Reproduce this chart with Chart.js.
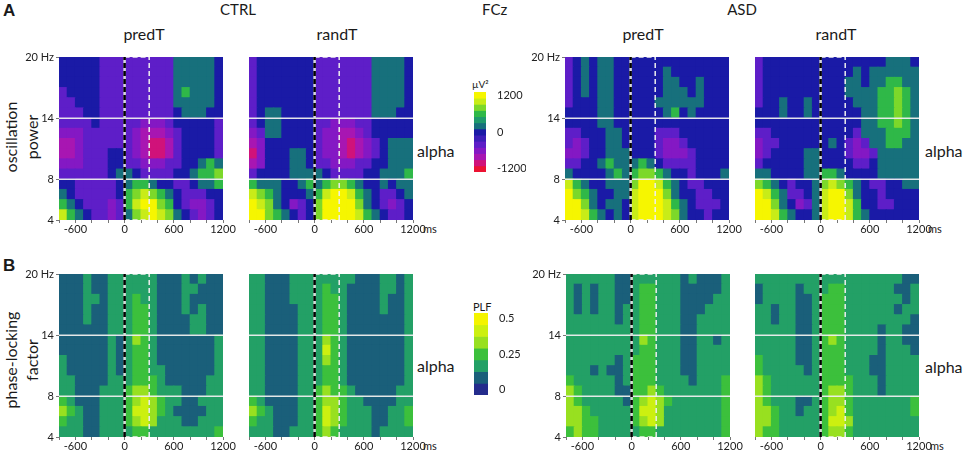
<!DOCTYPE html>
<html>
<head>
<meta charset="utf-8">
<script src="https://cdn.jsdelivr.net/npm/chart.js@4.4.1/dist/chart.umd.min.js"></script>
<style>
  html, body { margin: 0; padding: 0; background: #fff; }
  #stage { position: relative; width: 964px; height: 452px; overflow: hidden;
           font-family: Lato, "Open Sans", sans-serif; color: #1a1a1a; }
  canvas { position: absolute; }
  .t { position: absolute; white-space: nowrap; line-height: 1; }
  .c { transform: translateX(-50%); }
  .rot { transform: translate(-50%, -50%) rotate(-90deg); text-align: center; }
</style>
</head>
<body>
<div id="stage">
  <div class="t" style="left:3px;top:1px;font:bold 17px 'Liberation Sans',sans-serif">A</div>
  <div class="t" style="left:3px;top:256px;font:bold 17px 'Liberation Sans',sans-serif">B</div>
  <div class="t c" style="left:238px;top:2px;font-size:15px">CTRL</div>
  <div class="t" style="left:482px;top:2px;font-size:15px">FCz</div>
  <div class="t c" style="left:742px;top:2px;font-size:15px">ASD</div>
  <div class="t c" style="left:144px;top:26px;font-size:16px">predT</div>
  <div class="t c" style="left:337px;top:26px;font-size:16px">randT</div>
  <div class="t c" style="left:643px;top:26px;font-size:16px">predT</div>
  <div class="t c" style="left:836px;top:26px;font-size:16px">randT</div>
  <div class="t rot" style="left:21px;top:137px;font-size:16px;line-height:21px">oscillation<br>power</div>
  <div class="t rot" style="left:21px;top:360px;font-size:16px;line-height:21px">phase-locking<br>factor</div>
  <div class="t" style="left:417px;top:143px;font-size:16px">alpha</div>
  <div class="t" style="left:925px;top:143px;font-size:16px">alpha</div>
  <div class="t" style="left:417px;top:358px;font-size:16px">alpha</div>
  <div class="t" style="left:925px;top:359px;font-size:16px">alpha</div>
  <div class="t" style="left:423px;top:223px;font-size:11px">ms</div>
  <div class="t" style="left:928px;top:223px;font-size:11px">ms</div>
  <div class="t" style="left:423px;top:440px;font-size:11px">ms</div>
  <div class="t" style="left:930px;top:440px;font-size:11px">ms</div>
  <div class="t" style="left:472px;top:79px;font-size:10px">µV²</div>
  <div class="t" style="left:473px;top:301px;font-size:11px">PLF</div>
</div>
<script>
// time bins (ms, bin centres) and frequency bins (Hz, bin centres, top row first)
const timeCenters = [-750, -650, -550, -450, -350, -250, -150, -50, 50, 150,
                     250, 350, 450, 550, 650, 750, 850, 950, 1050, 1150];
const freqCenters = [19.5, 18.5, 17.5, 16.5, 15.5, 14.5, 13.5, 12.5,
                     11.5, 10.5, 9.5, 8.5, 7.5, 6.5, 5.5, 4.5];
const xTickLabels = [-600, 0, 600, 1200];
const yTickValues = [4, 8, 14, 20];
const yTickText = ['4', '8', '14', '20 Hz'];
const alphaBandHz = [8, 14];
const cueWindowMs = [0, 300];

// contour levels: one letter per level, lowest first
const powerLevels = [-1200, -1000, -800, -600, -400, -200, 0, 200, 400, 600, 800, 1000, 1200];
const powerCodes = 'rcmvpibtsglyY';
const powerTicks = [-1200, 0, 1200];
const plfLevels = [0, 0.083, 0.167, 0.25, 0.333, 0.417, 0.5];
const plfCodes = 'ntsglyY';
const plfTicks = [0, 0.25, 0.5];

// oscillation power, level letter per 100 ms x 1 Hz cell
const ctrlPredPower = [
  'bbbbbppppppppptttttb',
  'bbbbbppppppppptttttb',
  'bbbbbppppppppptttttb',
  'pbbbbppppppppptgtttb',
  'ppbbbppppppppptttttb',
  'pppbbpppppppppbtttbb',
  'ppppbpppppvvvpbbbbbp',
  'vvvppppppvmmmvpbbbbp',
  'mmvppppppvmccmpbbbbp',
  'mmvpppbbpvmccmpbbbbp',
  'vvvpppbbppvvvppbbtgt',
  'ppppppbttbppppbbtggl',
  'bbpppppbtggtbbppbttg',
  'tbpppppbglylgtbpppbb',
  'gtbpppvpgyYYlgbpvvpb',
  'ygtbppvptlyYyltbpvpb'
];
const ctrlRandPower = [
  'pbbbbbbbpppppppttttb',
  'pbbbbbbbpppppppttttb',
  'pbbbbbbbpppppppttttb',
  'pbbbbbbbpppppppttttb',
  'pbbbbbbbpppppppttttb',
  'pbttbbbbppppppptttbb',
  'pbttbbbbppvvvppbbbbb',
  'vpttbbbbpvvmmvpbbbbb',
  'mvbbbbbbpvvmcmvpbttt',
  'cvbbbttbpvvmcmvpbttt',
  'mvbbbttbppvvvppbbttt',
  'pbbbbttttbppppbbtttg',
  'gtttbbtgtgllgtbbtbtt',
  'ylgtbbbtgyYYygtbppbt',
  'YyltbvpblYYYYltbpvpb',
  'YYlgtbpblYYYYygtbppb'
];
const asdPredPower = [
  'pbtbttbbbbbbbbbbbbbb',
  'pbtbttbbbbbbtbbbbbbb',
  'pbtbttbbbbbbttbbtbbb',
  'pbtbttbbbbbbtttbtbbb',
  'pbbbttbbbbbttttttbbb',
  'bbbbttbbbbbbtgbtbbbb',
  'bbbbttbbbbbbbbbbbbbb',
  'ppbbbttbbbbpppbbbbbb',
  'pvpbbttbbbbpvvpbbbbb',
  'vvpbbtttbbbpvvvpbbbb',
  'ppbbtgtttgtbppppbbbb',
  'tbbbbtgtgllgtbbpbbbt',
  'ygtbbtttlYYygtbppbbb',
  'YlgtbbttyYYYltbbppbb',
  'YYltbttbyYYYygtbpppb',
  'YYygtbtbyYYYyltbbpbb'
];
const asdRandPower = [
  'pbbbbbbbbbbbbbbbtttb',
  'pbbbbbbbbbbbtbtttttt',
  'pbbbbbbbbbbttbttggtt',
  'pbbbbbbbbbbttttgglgt',
  'pbbtbbtbbbbbtttgglgt',
  'bbbtbbtbbbbbbttgglgt',
  'bbbbbbbbbbbbbttgglgt',
  'ppbbbbbbbbbbptttgggt',
  'vppbbbbbbtbpvpttggtt',
  'vpbbbbttbbbpvvpttttt',
  'pbbbbbttbbbbppbttttt',
  'ttbbbbttggtbbbbttttt',
  'lgtbpbbtlylgtbppbbtt',
  'YygtppbtyYYltbbpbbbb',
  'YYltbvptyYYygbbppbbb',
  'YYygtbbtyYYygtbbbbbb'
];

// phase-locking factor, same cells
const ctrlPredPlf = [
  'tttsttsssssstttststt',
  'tttsttsssssstttssttt',
  'tttsstsssgsstttstttt',
  'tttsttsssggstttststt',
  'tttsttsssggsttttsstt',
  'ttttttsssggsttttsstt',
  'ttttttstslgsttttttts',
  'ttttttstsggsttttttts',
  'stttttstsggsttttttts',
  'stttttstsggsstttttts',
  'ssttttsssgggstttttss',
  'sstttsssgllgssstttss',
  'gstttsssglylgssttsss',
  'lgsttsssgyylgsttttss',
  'gssttsssglylsssttsss',
  'sssttssssggssssssssg'
];
const ctrlRandPlf = [
  'sstttsssssssstttssts',
  'sstttssssgssttttssts',
  'sstttssssggsttttstts',
  'ssttttsssggsttttstts',
  'ssttttsssggsttttttts',
  'ssttttsssggsttttttts',
  'ssttttssslgsttttttts',
  'ssttttsssygsttttttts',
  'ssttttssslgsttttttts',
  'ssttttsssggsttttttts',
  'ssttttsssggsttttttts',
  'ssttttssglggstttttss',
  'gsttttssgllgssttttss',
  'lgstttssgylgsssttssg',
  'gsstttssgylgsssttssg',
  'sssttsssglgsssstssss'
];
const asdPredPlf = [
  'ssssssttsssssststtts',
  'ststssttsggsssttttts',
  'ststssttsggsssttttss',
  'ststsstssggssstttsss',
  'sssssstssggsssttssss',
  'sssssssssggsssttssss',
  'ssssssssslgsssttssts',
  'sssssssssggsssttssss',
  'sssssstsgggsssttssss',
  'ssststtsgggsssttssss',
  'gssssstsgggsssstsssg',
  'lgssssttgglgsssssssg',
  'lgssssstglylgssssssg',
  'llgsssssgyylsssssssg',
  'llggssssglylsssssssg',
  'glggsssssggssssssssg'
];
const asdRandPlf = [
  'sssssssssssssssssstt',
  'tsssstsssggsssssstts',
  'tssssttsgggsssssssts',
  'sstssttsgggsssssstss',
  'sstssttsgggsssssssst',
  'sssssttsgggsssstsstt',
  'sssssttsglgsssstsstt',
  'sssssttsgggsssstssst',
  'gssssttsgggsssttssss',
  'gssssstsgggsssttssss',
  'lgssssssggggssstssss',
  'lgssssssgllgssstssss',
  'lgsssttsgllgsssssssg',
  'llgsstssglygsssssssg',
  'llgsssssgyylssssssss',
  'lggsssssgllgssssssss'
];

// colour scales (lowest level first)
const powerColors = ['#ec1232', '#d0127a', '#a816b2', '#8418c4', '#5e1ec8', '#3c1eb8', '#1a1aa6',
                     '#17707c', '#1f9a6c', '#2fb848', '#7cd82a', '#c8ec18', '#f6f600'];
const plfColors = ['#242c8c', '#1a5f7a', '#23a066', '#3cc03c', '#98e020', '#ccf010', '#f4f400'];

Chart.defaults.font.family = 'Lato, "Open Sans", sans-serif';
Chart.defaults.color = '#222';
Chart.defaults.animation = false;
Chart.defaults.events = [];
Chart.defaults.plugins.legend.display = false;
Chart.defaults.plugins.tooltip.enabled = false;

const stage = document.getElementById('stage');
const PANEL_W = 164, PANEL_H = 163;
const AXIS_W = 36, AXIS_H = 22, PAD_T = 8, PAD_R = 18;
const X_MIN = -800, X_MAX = 1200, Y_MIN = 4, Y_MAX = 20;

function addCanvas(left, top, w, h) {
  const cv = document.createElement('canvas');
  cv.width = w; cv.height = h;
  cv.style.left = left + 'px';
  cv.style.top = top + 'px';
  stage.appendChild(cv);
  return cv;
}

function seg(x0, y0, x1, y1, color, width, dash, order) {
  return {
    type: 'line',
    data: [{x: x0, y: y0}, {x: x1, y: y1}],
    borderColor: color, borderWidth: width, borderDash: dash || [],
    pointRadius: 0, fill: false, order: order
  };
}

function makePanel(grid, codes, levels, colors, left, top, yLabels) {
  const cv = addCanvas(left - AXIS_W, top - PAD_T, AXIS_W + PANEL_W + PAD_R, PAD_T + PANEL_H + AXIS_H);
  const half = (freqCenters[0] - freqCenters[1]) / 2;
  const cells = [], fills = [];
  grid.forEach((row, r) => {
    [...row].forEach((ch, c) => {
      const k = codes.indexOf(ch);
      if (k < 0 || c >= timeCenters.length) return;
      cells.push({x: timeCenters[c], y: [freqCenters[r] - half, freqCenters[r] + half], v: levels[k]});
      fills.push(colors[k]);
    });
  });

  // lower order is drawn on top
  const marks = [];
  alphaBandHz.forEach(f => marks.push(seg(X_MIN, f, X_MAX, f, 'rgba(238,238,238,0.95)', 1.5, null, 3)));
  marks.push(seg(cueWindowMs[0], Y_MAX, cueWindowMs[1], Y_MAX, '#eee', 1.5, [5, 3], 2));
  marks.push(seg(cueWindowMs[0], Y_MIN, cueWindowMs[1], Y_MIN, '#eee', 1.5, [5, 3], 2));
  marks.push(seg(cueWindowMs[1], Y_MIN, cueWindowMs[1], Y_MAX, '#eee', 1.5, [5, 3], 2));
  marks.push(seg(cueWindowMs[0], Y_MIN, cueWindowMs[0], Y_MAX, '#d8d8d8', 2.5, null, 1));
  marks.push(seg(cueWindowMs[0], Y_MIN, cueWindowMs[0], Y_MAX, '#000', 2.5, [5, 3], 0));

  return new Chart(cv, {
    type: 'bar',
    data: {
      datasets: [{
        data: cells,
        backgroundColor: fills,
        borderWidth: 0,
        barPercentage: 1,
        categoryPercentage: 1,
        inflateAmount: 0.5,
        order: 10
      }].concat(marks)
    },
    options: {
      responsive: false,
      layout: {padding: {top: PAD_T, right: PAD_R, left: 0, bottom: 0}},
      scales: {
        x: {
          type: 'linear', min: X_MIN, max: X_MAX, offset: false,
          grid: {offset: false, drawOnChartArea: false, drawTicks: true, tickLength: 3, color: '#777'},
          border: {display: false},
          ticks: {
            stepSize: 200, autoSkip: false, maxRotation: 0, padding: 0,
            font: {size: 11},
            callback: v => xTickLabels.includes(v) ? String(v) : ''
          },
          afterFit: s => { s.height = AXIS_H; s.paddingLeft = 0; s.paddingRight = 0; }
        },
        y: {
          type: 'linear', min: Y_MIN, max: Y_MAX,
          grid: {drawOnChartArea: false, drawTicks: yLabels, tickLength: 3, color: '#777'},
          border: {display: false},
          afterBuildTicks: s => { s.ticks = yTickValues.map(v => ({value: v})); },
          ticks: {
            display: yLabels, padding: 2, font: {size: 11},
            callback: v => yTickText[yTickValues.indexOf(v)]
          },
          afterFit: s => { s.width = AXIS_W; s.paddingTop = 0; s.paddingBottom = 0; }
        }
      }
    }
  });
}

function makeColorbar(levels, colors, ticks, left, top, w, h) {
  const cv = addCanvas(left, top - 6, w + 40, h + 12);
  const step = levels[1] - levels[0];
  return new Chart(cv, {
    type: 'bar',
    data: {
      datasets: [{
        data: levels.map(v => ({x: 0, y: [v - step / 2, v + step / 2]})),
        backgroundColor: colors,
        borderWidth: 0,
        barPercentage: 1,
        categoryPercentage: 1,
        inflateAmount: 0.4
      }]
    },
    options: {
      responsive: false,
      layout: {padding: {top: 6, bottom: 6, left: 0, right: 0}},
      scales: {
        x: {
          type: 'linear', min: -0.5, max: 0.5, offset: false, display: false,
          afterBuildTicks: s => { s.ticks = [{value: -0.5}, {value: 0.5}]; }
        },
        y: {
          type: 'linear', position: 'right',
          min: levels[0] - step / 2, max: levels[levels.length - 1] + step / 2,
          grid: {display: false},
          border: {display: false},
          afterBuildTicks: s => { s.ticks = ticks.map(v => ({value: v})); },
          ticks: {padding: 3, font: {size: 11}, callback: v => String(v)},
          afterFit: s => { s.width = 40; s.paddingTop = 0; s.paddingBottom = 0; }
        }
      }
    }
  });
}

makePanel(ctrlPredPower, powerCodes, powerLevels, powerColors, 59, 57, true);
makePanel(ctrlRandPower, powerCodes, powerLevels, powerColors, 249, 57, false);
makePanel(asdPredPower, powerCodes, powerLevels, powerColors, 565, 57, true);
makePanel(asdRandPower, powerCodes, powerLevels, powerColors, 755, 57, false);
makePanel(ctrlPredPlf, plfCodes, plfLevels, plfColors, 59, 274, true);
makePanel(ctrlRandPlf, plfCodes, plfLevels, plfColors, 249, 274, false);
makePanel(asdPredPlf, plfCodes, plfLevels, plfColors, 566, 274, true);
makePanel(asdRandPlf, plfCodes, plfLevels, plfColors, 755, 274, false);

makeColorbar(powerLevels, powerColors, powerTicks, 474, 92, 12, 80);
makeColorbar(plfLevels, plfColors, plfTicks, 474, 313, 14, 82);
</script>
</body>
</html>
